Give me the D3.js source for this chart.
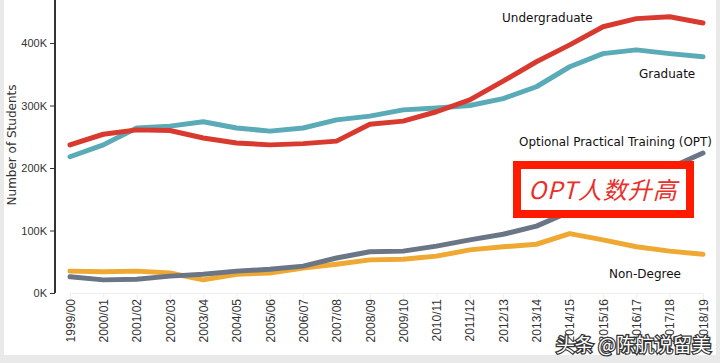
<!DOCTYPE html>
<html>
<head>
<meta charset="utf-8">
<script src="https://cdn.jsdelivr.net/npm/d3@7"></script>
<style>
	body { margin: 0; background: #e9e9e9; }
	svg { display: block; font-family: "DejaVu Sans", Verdana, sans-serif; }
</style>
</head>
<body>
<svg id="chart" width="720" height="363"></svg>
<script>
// school years on the x axis
const years = ["1999/00", "2000/01", "2001/02", "2002/03", "2003/04", "2004/05", "2005/06",
	"2006/07", "2007/08", "2008/09", "2009/10", "2010/11", "2011/12", "2012/13", "2013/14",
	"2014/15", "2015/16", "2016/17", "2017/18", "2018/19"];

// number of students, in thousands
const undergraduate = [237, 254, 261, 260, 248, 240, 237, 239, 243, 270, 275, 290, 309, 339, 370, 397, 426, 439, 442, 432];
const graduate = [218, 237, 264, 267, 274, 264, 259, 264, 277, 283, 293, 296, 300, 311, 330, 362, 383, 389, 383, 378];
const opt = [26, 21, 22, 27, 30, 35, 38, 43, 56, 66, 67, 75, 85, 94, 107, 130, 152, 176, 200, 224];
const nonDegree = [35, 34, 35, 32, 21, 30, 32, 40, 46, 53, 54, 59, 69, 74, 78, 95, 85, 74, 67, 62];

const yTicks = [0, 100, 200, 300, 400];

const series = [
	{ name: "Undergraduate", values: undergraduate, color: "#d93a2f", lx: 502, ly: 22 },
	{ name: "Graduate", values: graduate, color: "#5aaab8", lx: 639, ly: 78 },
	{ name: "Optional Practical Training (OPT)", values: opt, color: "#6a7585", lx: 519, ly: 146 },
	{ name: "Non-Degree", values: nonDegree, color: "#efa832", lx: 609, ly: 278 },
];

const svg = d3.select("#chart");

// white panel (screenshot frame)
svg.append("rect").attr("x", 4).attr("y", 0).attr("width", 712).attr("height", 355).attr("fill", "#fff");

const x = d3.scalePoint().domain(years).range([70, 703]);
const y = d3.scaleLinear().domain([0, 400]).range([293, 43]);

// x axis (faint)
const xAxis = svg.append("g")
	.attr("transform", "translate(0,293)")
	.call(d3.axisBottom(x).tickSize(6).tickSizeOuter(0));
xAxis.select(".domain").attr("stroke", "#eee");
xAxis.selectAll(".tick line").attr("stroke", "#eee");
xAxis.selectAll("text")
	.attr("transform", "rotate(-90)")
	.attr("x", -6)
	.attr("y", 0)
	.attr("dy", "0.35em")
	.style("text-anchor", "end")
	.style("font-size", "12px")
	.attr("fill", "#333");

// y axis
const yAxis = svg.append("g")
	.attr("transform", "translate(55,0)")
	.call(d3.axisLeft(y).tickValues(yTicks).tickFormat((d) => d + "K").tickSize(5).tickSizeOuter(0));
yAxis.select(".domain").attr("d", "M0,0V293").attr("stroke", "#333").attr("stroke-width", 2);
yAxis.selectAll(".tick line").attr("stroke", "#333");
yAxis.selectAll("text").style("font-size", "11px").attr("fill", "#333");

svg.append("text")
	.attr("transform", "translate(16,145) rotate(-90)")
	.attr("text-anchor", "middle")
	.style("font-size", "12px")
	.attr("fill", "#333")
	.text("Number of Students");

const line = d3.line()
	.x((d, i) => x(years[i]))
	.y((d) => y(d));

// OPT and non-degree drawn first, as in the reference
const drawOrder = [series[3], series[2], series[1], series[0]];
svg.selectAll(".series")
	.data(drawOrder)
	.enter()
	.append("path")
	.attr("class", "series")
	.attr("d", (d) => line(d.values))
	.attr("fill", "none")
	.attr("stroke", (d) => d.color)
	.attr("stroke-width", 5)
	.attr("stroke-linejoin", "round")
	.attr("stroke-linecap", "round");

svg.selectAll(".label")
	.data(series)
	.enter()
	.append("text")
	.attr("class", "label")
	.attr("x", (d) => d.lx)
	.attr("y", (d) => d.ly)
	.style("font-size", "12px")
	.attr("fill", "#111")
	.text((d) => d.name);

// the long OPT label has to fit inside the panel
svg.selectAll(".label")
	.filter((d) => d.values === opt)
	.attr("textLength", 193)
	.attr("lengthAdjust", "spacingAndGlyphs");

// annotation box
svg.append("rect")
	.attr("x", 517).attr("y", 165)
	.attr("width", 173).attr("height", 49)
	.attr("fill", "#fff")
	.attr("stroke", "#ff1a00")
	.attr("stroke-width", 8);
svg.append("text")
	.attr("x", 603).attr("y", 199)
	.attr("text-anchor", "middle")
	.style("font-family", "'Noto Sans CJK SC', sans-serif")
	.style("font-size", "24px")
	.style("font-style", "italic")
	.style("letter-spacing", "1px")
	.attr("fill", "#e8302a")
	.text("OPT人数升高");

// watermark
svg.append("text")
	.attr("x", 711).attr("y", 352)
	.attr("text-anchor", "end")
	.style("font-family", "'Noto Sans CJK SC', sans-serif")
	.style("font-size", "19px")
	.attr("fill", "#fff")
	.attr("stroke", "#333")
	.attr("stroke-width", 2.5)
	.attr("paint-order", "stroke")
	.text("头条 @陈航说留美");
</script>
</body>
</html>
